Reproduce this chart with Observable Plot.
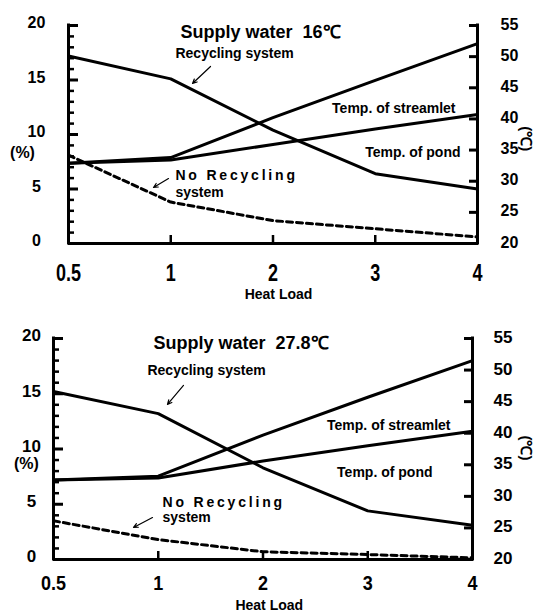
<!DOCTYPE html>
<html>
<head>
<meta charset="utf-8">
<script src="https://cdn.jsdelivr.net/npm/d3@7"></script>
<script src="https://cdn.jsdelivr.net/npm/@observablehq/plot@0.6"></script>
<style>
  body { margin: 0; background: #fff; width: 537px; height: 614px; overflow: hidden; }
  #chart svg { display: block; }
</style>
</head>
<body>
<div id="chart"></div>
<script>
// ---------- data ----------
const heatLoad = ["0.5", "1", "2", "3", "4"];

// Supply water 16 ℃
const recycle16    = [17.2, 15.1, 10.4, 6.4, 5.0];   // %
const noRecycle16  = [8.1, 3.8, 2.1, 1.35, 0.6];     // %
const streamlet16  = [32.9, 33.8, 40.2, 46.2, 52.1]; // ℃
const pond16       = [32.9, 33.4, 35.9, 38.4, 40.7]; // ℃

// Supply water 27.8 ℃
const recycle278   = [15.2, 13.2, 8.3, 4.4, 3.1];
const noRecycle278 = [3.5, 1.8, 0.7, 0.45, 0.15];
const streamlet278 = [32.6, 33.2, 39.7, 45.7, 51.5];
const pond278      = [32.6, 32.9, 35.6, 38.0, 40.3];

const pctMajor = [0, 5, 10, 15, 20];
const pctMinor = [1,2,3,4,6,7,8,9,11,12,13,14,16,17,18,19];
const tempTicks = [20, 25, 30, 35, 40, 45, 50, 55];
const innerXTicks = [1, 2, 3];

const titles = ["Supply water\u00a0 16\u2103", "Supply water\u00a0 27.8\u2103"];

// ---------- drawing ----------
const FONT = "'Liberation Sans', Arial, Helvetica, sans-serif";
const toPct = t => (t - 20) * 20 / 35;       // right (℃) axis mapped onto the % axis
const fromPct = p => 20 + p * 35 / 20;

function makePanel(p) {
  const idx = heatLoad.map((_, i) => i);
  const tempPos = tempTicks.map(toPct);
  const notes = p.notes;
  const textFor = anchor => Plot.text(notes.filter(d => d.anchor === anchor), {
    x: "x", y: "y", text: "text", textAnchor: anchor, fontSize: "size",
    rotate: "rotate", fontWeight: "bold", fill: "black"
  });
  const svg = Plot.plot({
    width: 537,
    height: p.height,
    marginTop: p.mt, marginRight: p.mr, marginBottom: p.mb, marginLeft: p.ml,
    x: {domain: [0, 4], axis: null},
    y: {domain: [0, 20], axis: null},
    style: {fontFamily: FONT, fontWeight: "bold", color: "black", background: "white", overflow: "visible"},
    marks: [
      // series
      Plot.line(idx, {x: i => i, y: i => p.recycle[i], strokeWidth: 3}),
      Plot.line(idx, {x: i => i, y: i => toPct(p.streamlet[i]), strokeWidth: 3}),
      Plot.line(idx, {x: i => i, y: i => toPct(p.pond[i]), strokeWidth: 3}),
      Plot.line(idx, {x: i => i, y: i => p.noRecycle[i], strokeWidth: 3, strokeDasharray: "6,4"}),
      // frame lines
      Plot.ruleY([0], {strokeWidth: 3}),
      Plot.ruleX([0, 4], {y1: 0, y2: 20, strokeWidth: 3, strokeLinecap: "square"}),
      // inward ticks (tick marks of the axes, drawn inside the frame)
      Plot.axisY(pctMajor, {anchor: "left", tickSize: -10, strokeWidth: 3, stroke: "black", tickFormat: () => "", label: null}),
      Plot.axisY(pctMinor, {anchor: "left", tickSize: -6, strokeWidth: 2.5, stroke: "black", tickFormat: () => "", label: null}),
      Plot.axisY(tempPos, {anchor: "right", tickSize: -9, strokeWidth: 3, stroke: "black", tickFormat: () => "", label: null}),
      Plot.axisX(innerXTicks, {anchor: "bottom", tickSize: -8, strokeWidth: 2.5, stroke: "black", tickFormat: () => "", label: null}),
      // tick labels
      Plot.axisY(pctMajor, {anchor: "left", tickSize: 0, tickPadding: p.lpad, textAnchor: "middle",
                            fontSize: p.yfs, label: null, dy: -2.5}),
      Plot.axisY(tempPos, {anchor: "right", tickSize: 0, tickPadding: p.rpad,
                           tickFormat: d => String(Math.round(fromPct(d))), fontSize: p.yfs, label: null, dy: -1}),
      Plot.axisX(idx, {anchor: "bottom", tickSize: 0, tickPadding: p.xpad, tickFormat: i => heatLoad[i],
                       fontSize: 18, label: null}),
      // annotations
      textFor("start"),
      textFor("middle"),
      textFor("end"),
      Plot.arrow(p.arrows, {x1: "x1", y1: "y1", x2: "x2", y2: "y2", strokeWidth: 1.2,
                            headLength: 6, headAngle: 50})
    ]
  });
  // letter-spaced label
  d3.select(svg).selectAll("text").filter(function () { return this.textContent === "No Recycling"; })
    .style("letter-spacing", "2.8px");
  // tall tick digits on the x axis as in the scan
  d3.select(svg).selectAll('g[aria-label="x-axis tick label"] text').each(function () {
    const t = this.getAttribute("transform") || "";
    this.setAttribute("transform", t + ` scale(1,${p.xstretch})`);
  });
  return svg;
}

// text annotation layout (positions in data units: x = heat-load index, y = %)
function notesFor(title, L) {
  return [
    {text: title, x: L.title[0], y: L.title[1], anchor: "start", size: 18, rotate: 0},
    {text: "Recycling system", x: L.rec[0], y: L.rec[1], anchor: "start", size: 14, rotate: 0},
    {text: "Temp. of streamlet", x: L.str[0], y: L.str[1], anchor: "end", size: 14, rotate: 0},
    {text: "Temp. of pond", x: L.pond[0], y: L.pond[1], anchor: "end", size: 14, rotate: 0},
    {text: "No Recycling", x: L.no[0], y: L.no[1], anchor: "start", size: 14, rotate: 0},
    {text: "system", x: L.sys[0], y: L.sys[1], anchor: "start", size: 14, rotate: 0},
    {text: "Heat Load", x: L.heat[0], y: L.heat[1], anchor: "middle", size: 14, rotate: 0},
    {text: "(%)", x: L.pct[0], y: L.pct[1], anchor: "middle", size: 16, rotate: 0},
    {text: "(\u2103)", x: L.deg[0], y: L.deg[1], anchor: "middle", size: 15, rotate: 90}
  ];
}

const panelTop = makePanel({
  height: 305, mt: 25, mb: 62, ml: 68, mr: 60,
  lpad: 32, rpad: 23, xpad: 20, yfs: 16, xstretch: 1.35,
  recycle: recycle16, noRecycle: noRecycle16, streamlet: streamlet16, pond: pond16,
  notes: notesFor(titles[0], {
    title: [1.095, 19.36], rec: [1.046, 17.43], str: [3.785, 12.39], pond: [3.834, 8.35],
    no: [1.046, 6.24], sys: [1.046, 4.68], heat: [2.054, -4.68], pct: [-0.45, 8.35], deg: [4.47, 9.6]
  }),
  arrows: [
    {x1: 1.389, y1: 16.24, x2: 1.213, y2: 14.68},
    {x1: 0.978, y1: 5.96, x2: 0.831, y2: 5.14}
  ]
});

const panelBottom = makePanel({
  height: 309, mt: 33, mb: 55, ml: 53, mr: 65,
  lpad: 22, rpad: 21, xpad: 16, yfs: 17, xstretch: 1.15,
  recycle: recycle278, noRecycle: noRecycle278, streamlet: streamlet278, pond: pond278,
  notes: notesFor(titles[1], {
    title: [0.955, 19.55], rec: [0.897, 17.1], str: [3.79, 12.13], pond: [3.618, 7.87],
    no: [1.041, 5.16], sys: [1.041, 3.8], heat: [2.06, -4.16], pct: [-0.258, 8.69], deg: [4.507, 10.1]
  }),
  arrows: [
    {x1: 1.241, y1: 15.75, x2: 1.088, y2: 14.03},
    {x1: 0.945, y1: 3.8, x2: 0.764, y2: 2.9}
  ]
});

document.getElementById("chart").append(panelTop, panelBottom);
</script>
</body>
</html>
